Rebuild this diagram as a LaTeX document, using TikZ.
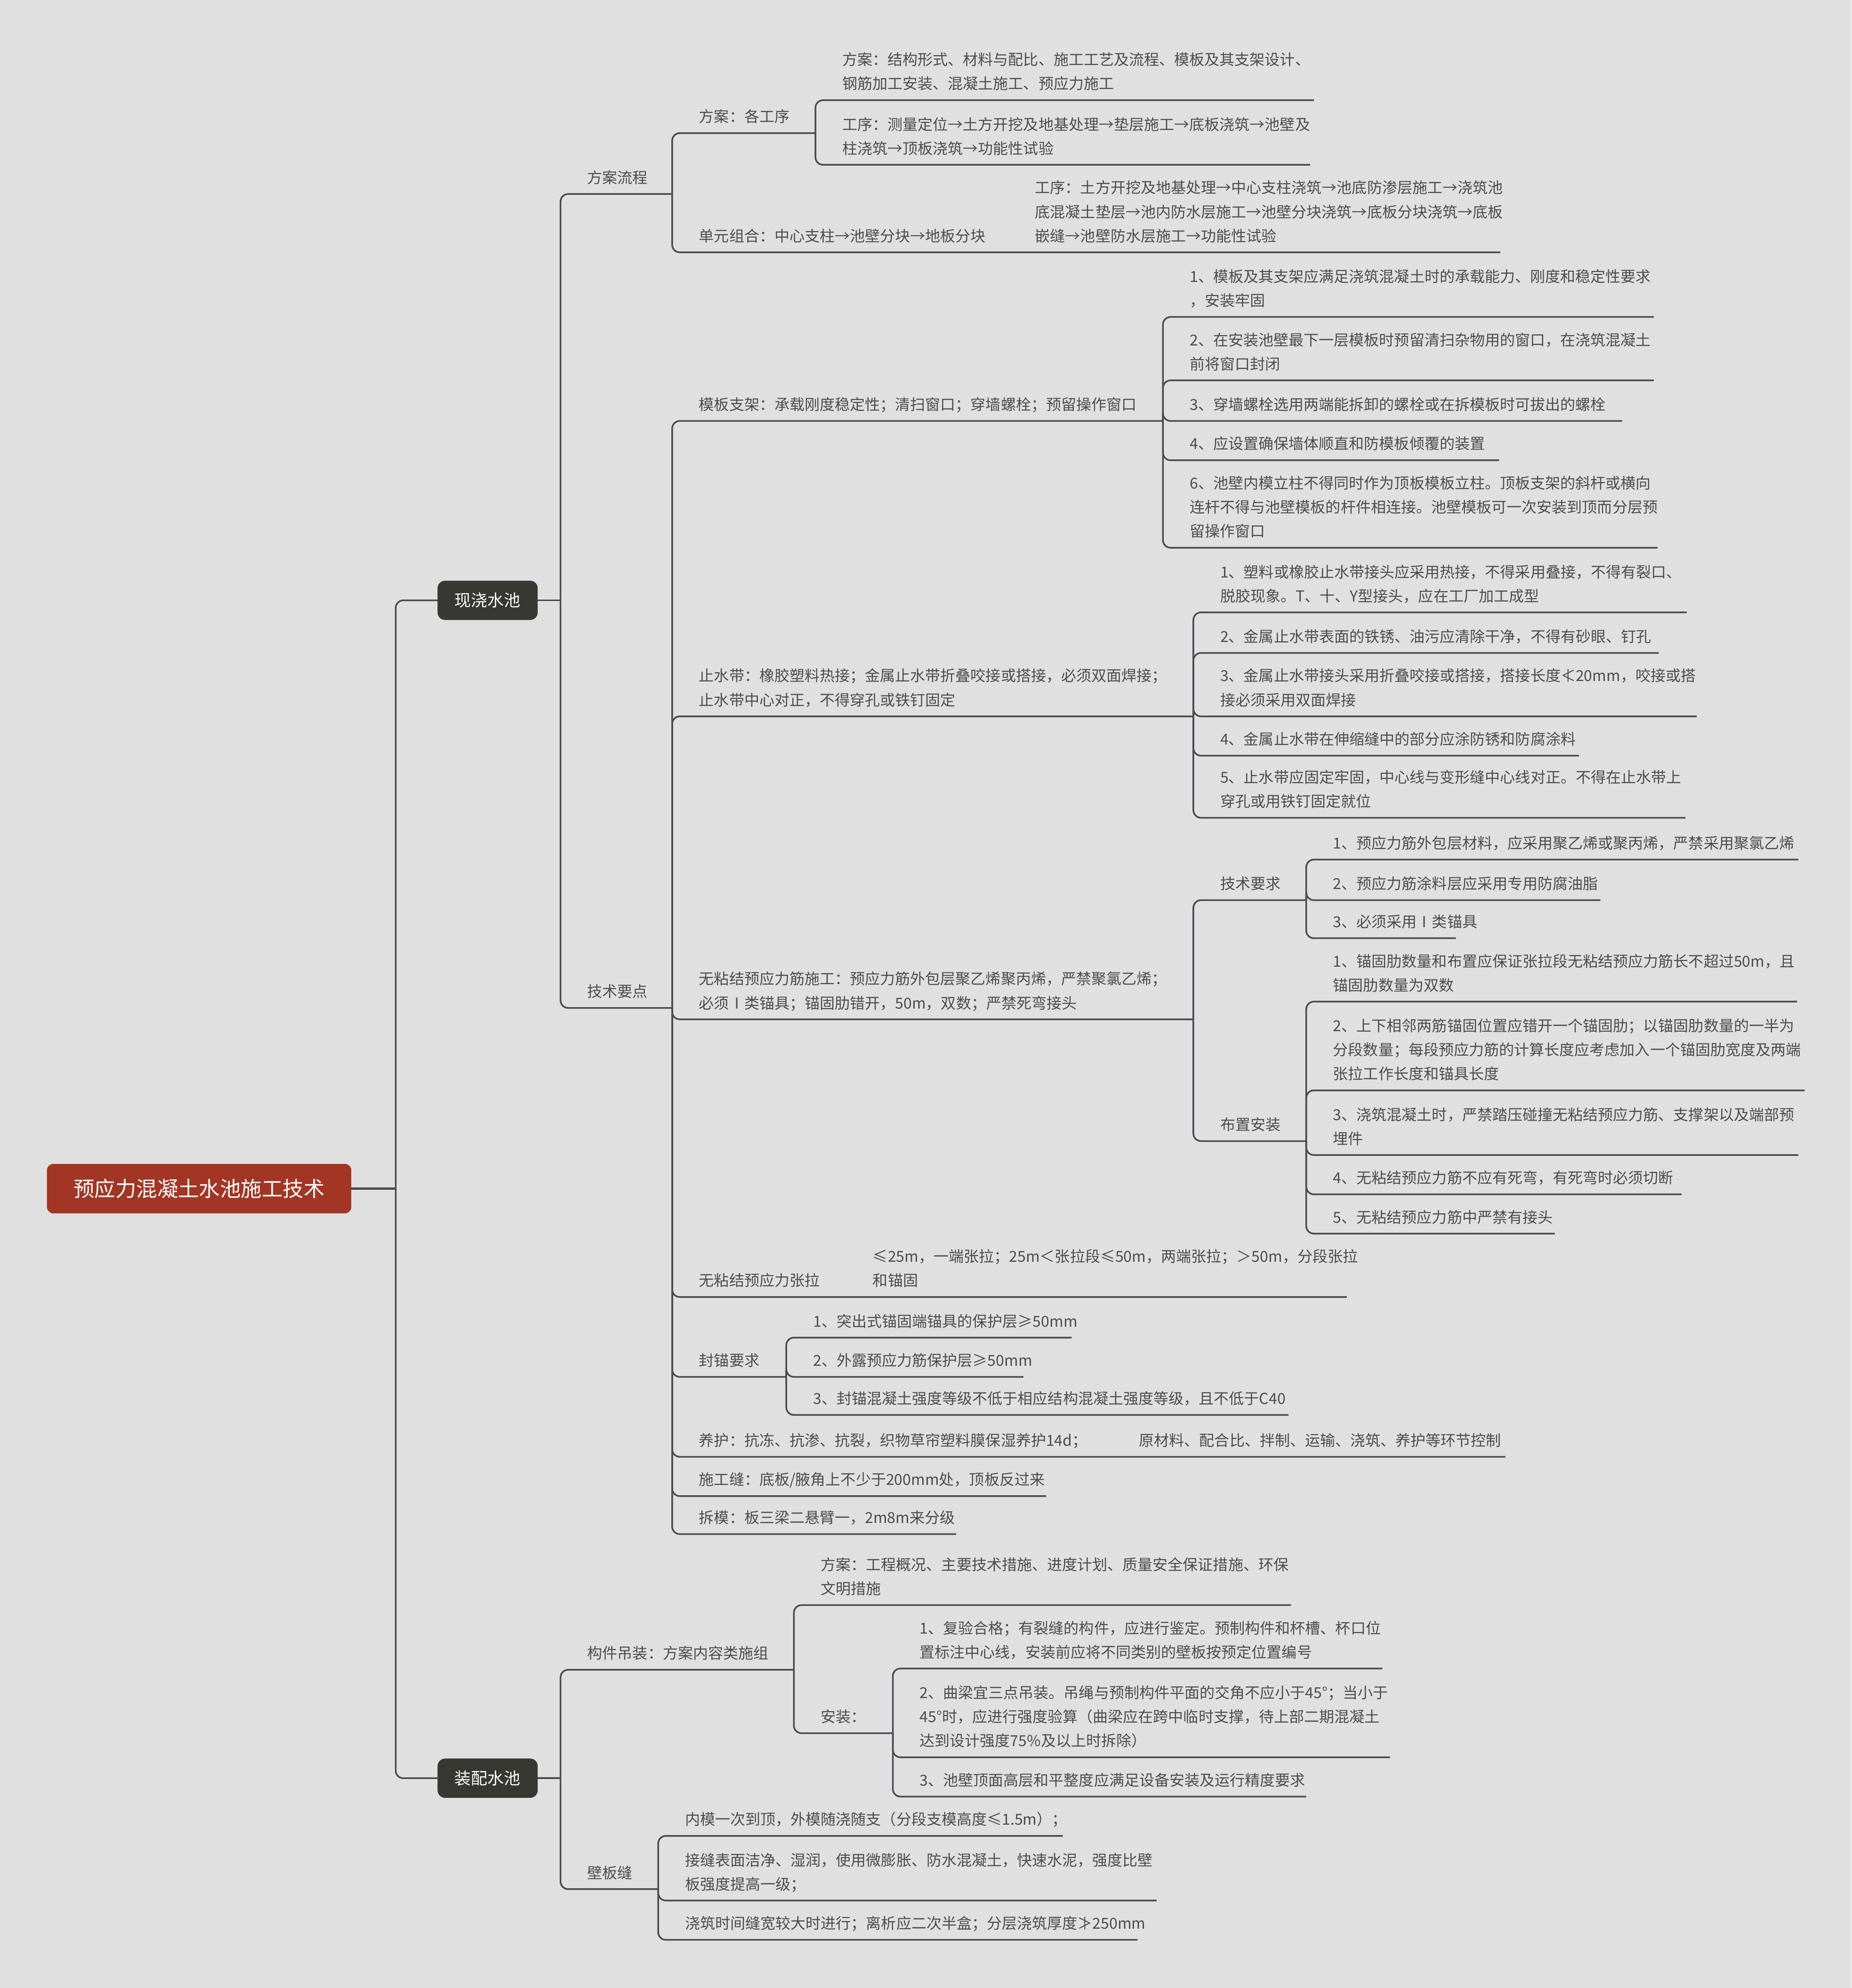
\documentclass[tikz,border=0pt]{standalone}
\usepackage{fontspec}
\setmainfont{Noto Sans CJK SC}
\definecolor{bgc}{RGB}{224,224,224}
\definecolor{linec}{RGB}{74,74,80}
\definecolor{txtc}{RGB}{76,76,76}
\definecolor{rootc}{RGB}{163,53,37}
\definecolor{branchc}{RGB}{56,56,50}
\newcommand\tnode[5]{\node[txt] (#1) at ({#2+21},{-#3}) {#5};\coordinate (#1-e) at (#4,{-#3});}
\newcommand\snode[4]{\node[txt] (#1) at (#2,{-#3}) {#4};}
\begin{document}
\begin{tikzpicture}[x=1pt,y=1pt,
  txt/.style={anchor=south west, yshift=2.6pt, inner sep=0pt, align=left, text=txtc,
    font=\fontsize{11.9}{19}\selectfont, execute at begin node=\strut, execute at end node=\strut},
  conn/.style={draw=linec, line width=1.3pt, rounded corners=6pt},
  rootbox/.style={fill=rootc, rounded corners=5pt, minimum width=240pt, minimum height=39pt,
    inner sep=0pt, text=white, font=\fontsize{16.5}{20}\selectfont},
  branchbox/.style={fill=branchc, rounded corners=6pt, minimum width=79pt, minimum height=31pt,
    inner sep=0pt, text=white, font=\fontsize{13}{16}\selectfont}]
\useasboundingbox[fill=bgc] (0,0) rectangle (1460,-1568);

% ---------- text nodes ----------
\tnode{fa}{442}{153}{530}{方案流程}
\tnode{fa1}{530}{105}{643}{方案：各工序}
\tnode{fa1a}{643}{79}{1036}{方案：结构形式、材料与配比、施工工艺及流程、模板及其支架设计、\\钢筋加工安装、混凝土施工、预应力施工}
\tnode{fa1b}{643}{130}{1033}{工序：测量定位→土方开挖及地基处理→垫层施工→底板浇筑→池壁及\\柱浇筑→顶板浇筑→功能性试验}
\tnode{fa2}{530}{199}{1183}{单元组合：中心支柱→池壁分块→地板分块}
\snode{fa2s}{816}{199}{工序：土方开挖及地基处理→中心支柱浇筑→池底防渗层施工→浇筑池\\底混凝土垫层→池内防水层施工→池壁分块浇筑→底板分块浇筑→底板\\嵌缝→池壁防水层施工→功能性试验}

\tnode{js}{442}{795}{530}{技术要点}
\tnode{m}{530}{332}{917}{模板支架：承载刚度稳定性；清扫窗口；穿墙螺栓；预留操作窗口}
\tnode{m1}{917}{250}{1304}{1、模板及其支架应满足浇筑混凝土时的承载能力、刚度和稳定性要求\\，安装牢固}
\tnode{m2}{917}{300}{1304}{2、在安装池壁最下一层模板时预留清扫杂物用的窗口，在浇筑混凝土\\前将窗口封闭}
\tnode{m3}{917}{332}{1279}{3、穿墙螺栓选用两端能拆卸的螺栓或在拆模板时可拔出的螺栓}
\tnode{m4}{917}{363}{1182}{4、应设置确保墙体顺直和防模板倾覆的装置}
\tnode{m6}{917}{432}{1307}{6、池壁内模立柱不得同时作为顶板模板立柱。顶板支架的斜杆或横向\\连杆不得与池壁模板的杆件相连接。池壁模板可一次安装到顶而分层预\\留操作窗口}

\tnode{z}{530}{565}{941}{止水带：橡胶塑料热接；金属止水带折叠咬接或搭接，必须双面焊接；\\止水带中心对正，不得穿孔或铁钉固定}
\tnode{z1}{941}{483}{1330}{1、塑料或橡胶止水带接头应采用热接，不得采用叠接，不得有裂口、\\脱胶现象。T、十、Y型接头，应在工厂加工成型}
\tnode{z2}{941}{515}{1308}{2、金属止水带表面的铁锈、油污应清除干净，不得有砂眼、钉孔}
\tnode{z3}{941}{565}{1338}{3、金属止水带接头采用折叠咬接或搭接，搭接长度≮20mm，咬接或搭\\接必须采用双面焊接}
\tnode{z4}{941}{596}{1245}{4、金属止水带在伸缩缝中的部分应涂防锈和防腐涂料}
\tnode{z5}{941}{645}{1329}{5、止水带应固定牢固，中心线与变形缝中心线对正。不得在止水带上\\穿孔或用铁钉固定就位}

\tnode{w}{530}{804}{941}{无粘结预应力筋施工：预应力筋外包层聚乙烯聚丙烯，严禁聚氯乙烯；\\必须Ⅰ类锚具；锚固肋错开，50m，双数；严禁死弯接头}
\tnode{wt}{941}{710}{1030}{技术要求}
\tnode{wt1}{1030}{678}{1418}{1、预应力筋外包层材料，应采用聚乙烯或聚丙烯，严禁采用聚氯乙烯}
\tnode{wt2}{1030}{710}{1262}{2、预应力筋涂料层应采用专用防腐油脂}
\tnode{wt3}{1030}{740}{1148}{3、必须采用Ⅰ类锚具}
\tnode{wb}{941}{900}{1030}{布置安装}
\tnode{wb1}{1030}{790}{1417}{1、锚固肋数量和布置应保证张拉段无粘结预应力筋长不超过50m，且\\锚固肋数量为双数}
\tnode{wb2}{1030}{860}{1423}{2、上下相邻两筋锚固位置应错开一个锚固肋；以锚固肋数量的一半为\\分段数量；每段预应力筋的计算长度应考虑加入一个锚固肋宽度及两端\\张拉工作长度和锚具长度}
\tnode{wb3}{1030}{911}{1418}{3、浇筑混凝土时，严禁踏压碰撞无粘结预应力筋、支撑架以及端部预\\埋件}
\tnode{wb4}{1030}{942}{1326}{4、无粘结预应力筋不应有死弯，有死弯时必须切断}
\tnode{wb5}{1030}{973}{1226}{5、无粘结预应力筋中严禁有接头}

\tnode{zl}{530}{1023}{1062}{无粘结预应力张拉}
\snode{zls}{688}{1023}{≤25m，一端张拉；25m＜张拉段≤50m，两端张拉；＞50m，分段张拉\\和锚固}
\tnode{f}{530}{1086}{620}{封锚要求}
\tnode{f1}{620}{1055}{845}{1、突出式锚固端锚具的保护层≥50mm}
\tnode{f2}{620}{1086}{807}{2、外露预应力筋保护层≥50mm}
\tnode{f3}{620}{1116}{1016}{3、封锚混凝土强度等级不低于相应结构混凝土强度等级，且不低于C40}
\tnode{yh}{530}{1149}{1187}{养护：抗冻、抗渗、抗裂，织物草帘塑料膜保湿养护14d；}
\snode{yhs}{898}{1149}{原材料、配合比、拌制、运输、浇筑、养护等环节控制}
\tnode{sg}{530}{1180}{825}{施工缝：底板/腋角上不少于200mm处，顶板反过来}
\tnode{cm}{530}{1210}{754}{拆模：板三梁二悬臂一，2m8m来分级}

\tnode{g}{442}{1317}{626}{构件吊装：方案内容类施组}
\tnode{g1}{626}{1266}{1018}{方案：工程概况、主要技术措施、进度计划、质量安全保证措施、环保\\文明措施}
\tnode{g2}{626}{1367}{704}{安装：}
\tnode{g21}{704}{1316}{1090}{1、复验合格；有裂缝的构件，应进行鉴定。预制构件和杯槽、杯口位\\置标注中心线，安装前应将不同类别的壁板按预定位置编号}
\tnode{g22}{704}{1386}{1096}{2、曲梁宜三点吊装。吊绳与预制构件平面的交角不应小于45°；当小于\\45°时，应进行强度验算（曲梁应在跨中临时支撑，待上部二期混凝土\\达到设计强度75\%及以上时拆除）}
\tnode{g23}{704}{1417}{1030}{3、池壁顶面高层和平整度应满足设备安装及运行精度要求}
\tnode{bb}{442}{1490}{519}{壁板缝}
\tnode{bb1}{519}{1448}{838}{内模一次到顶，外模随浇随支（分段支模高度≤1.5m）；}
\tnode{bb2}{519}{1499}{912}{接缝表面洁净、湿润，使用微膨胀、防水混凝土，快速水泥，强度比壁\\板强度提高一级；}
\tnode{bb3}{519}{1530}{897}{浇筑时间缝宽较大时进行；离析应二次半盒；分层浇筑厚度≯250mm}

% ---------- main nodes ----------
\coordinate (j0) at (312,-937.5);
\coordinate (j1) at (442,-473.5);
\coordinate (j2) at (442,-1402.5);
\draw[conn, line width=1.8pt] (157,-937.5) -- (j0);
\draw[conn] (j0) |- (384.5,-473.5);
\draw[conn] (j0) |- (384.5,-1402.5);
\draw[conn] (384.5,-473.5) -- (j1);
\draw[conn] (384.5,-1402.5) -- (j2);
\node[rootbox] (root) at (157,-937.5) {预应力混凝土水池施工技术};
\node[branchbox] (b1) at (384.5,-473.5) {现浇水池};
\node[branchbox] (b2) at (384.5,-1402.5) {装配水池};

% ---------- connectors ----------
\foreach \c in {fa,js} \draw[conn] (j1) |- (\c-e);
\foreach \c in {g,bb} \draw[conn] (j2) |- (\c-e);
\foreach \c in {fa1,fa2} \draw[conn] (fa-e) |- (\c-e);
\foreach \c in {fa1a,fa1b} \draw[conn] (fa1-e) |- (\c-e);
\foreach \c in {m,z,w,zl,f,yh,sg,cm} \draw[conn] (js-e) |- (\c-e);
\foreach \c in {m1,m2,m3,m4,m6} \draw[conn] (m-e) |- (\c-e);
\foreach \c in {z1,z2,z3,z4,z5} \draw[conn] (z-e) |- (\c-e);
\foreach \c in {wt,wb} \draw[conn] (w-e) |- (\c-e);
\foreach \c in {wt1,wt2,wt3} \draw[conn] (wt-e) |- (\c-e);
\foreach \c in {wb1,wb2,wb3,wb4,wb5} \draw[conn] (wb-e) |- (\c-e);
\foreach \c in {f1,f2,f3} \draw[conn] (f-e) |- (\c-e);
\foreach \c in {g1,g2} \draw[conn] (g-e) |- (\c-e);
\foreach \c in {g21,g22,g23} \draw[conn] (g2-e) |- (\c-e);
\foreach \c in {bb1,bb2,bb3} \draw[conn] (bb-e) |- (\c-e);
\end{tikzpicture}
\end{document}
